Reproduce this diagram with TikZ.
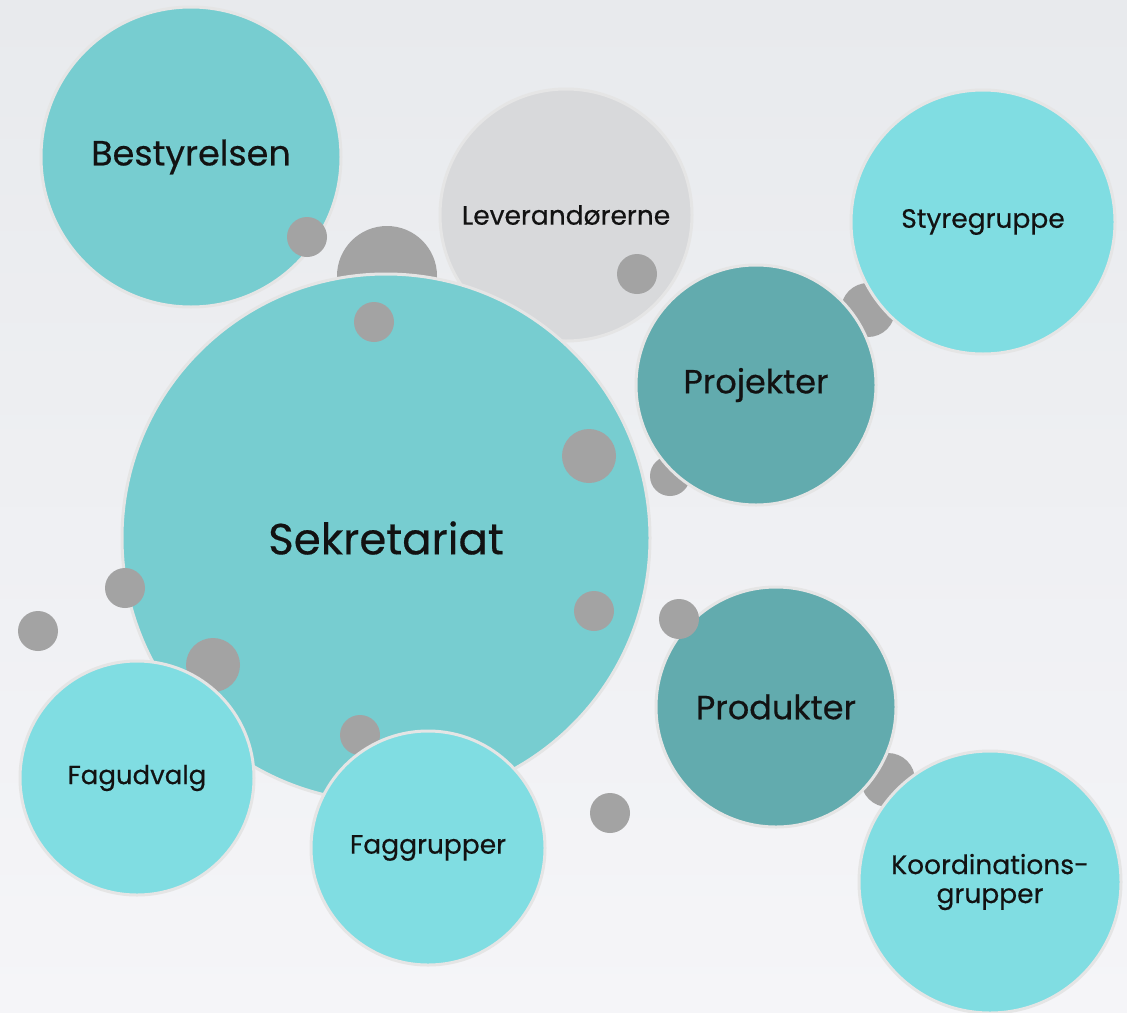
\documentclass[tikz,border=0pt]{standalone}
\usepackage{fontspec}
\setmainfont{Poppins}[FakeBold=0.4]
\usetikzlibrary{positioning}

\definecolor{bgtop}{RGB}{232,234,237}
\definecolor{bgbottom}{RGB}{245,245,248}
\definecolor{tealmid}{RGB}{119,205,208}
\definecolor{teallight}{RGB}{128,221,226}
\definecolor{tealdark}{RGB}{98,171,174}
\definecolor{greybig}{RGB}{216,217,219}
\definecolor{dotgrey}{RGB}{163,163,163}
\definecolor{rimgrey}{RGB}{229,229,229}

\begin{document}
\begin{tikzpicture}[
    x=1pt, y=-1pt,
    bubble/.style={circle, draw=rimgrey, line width=3pt, inner sep=0pt, align=center, text=black!93},
    dot/.style={circle, fill=dotgrey, inner sep=0pt, minimum size=#1},
    dot/.default=40pt
]

% Background
\useasboundingbox (0,0) rectangle (1127,1012);
\shade[top color=bgtop, bottom color=bgbottom] (0,0) rectangle (1127,1012);

% Dots behind the bubbles
\node[dot=100pt] (d1) at (387,276) {};
\node[dot=54pt] (d2) at (868,310) {};
\node[dot=40pt] (d3) at (670,476) {};
\node[dot=54pt] (d4) at (888,780) {};

% Bubbles
\node[bubble, fill=greybig, minimum size=252pt, font=\fontsize{26.5}{29}\selectfont] (lev) at (566,215) {Leverandørerne};
\node[bubble, fill=tealmid, minimum size=300pt, font=\fontsize{35}{40}\selectfont] (best) at (191,157) {Bestyrelsen};
\node[dot] (d5) at (307,237) {};
\node[dot] (d6) at (637,274) {};
\node[bubble, fill=tealmid, minimum size=528pt, font=\fontsize{43.5}{50}\selectfont] (sekr) at (386,538) {Sekretariat};
\node[dot] (d7) at (374,322) {};
\node[dot=54pt] (d8) at (589,456) {};
\node[dot] (d9) at (594,611) {};
\node[dot] (d10) at (125,588) {};
\node[dot=54pt] (d11) at (213,665) {};
\node[dot] (d12) at (360,735) {};
\node[bubble, fill=teallight, minimum size=264pt, font=\fontsize{26.5}{29}\selectfont] (styr) at (983,222) {Styregruppe};
\node[bubble, fill=tealdark, minimum size=240pt, font=\fontsize{33.5}{38}\selectfont] (proj) at (756,385) {Projekter};
\node[bubble, fill=tealdark, minimum size=240pt, font=\fontsize{33.5}{38}\selectfont] (prod) at (776,707) {Produkter};
\node[dot] (d13) at (679,619) {};
\node[bubble, fill=teallight, minimum size=262pt, font=\fontsize{26.5}{29}\selectfont] (koord) at (990,882) {Koordinations-\\grupper};
\node[bubble, fill=teallight, minimum size=234pt, font=\fontsize{26}{29}\selectfont] (fagu) at (137,778) {Fagudvalg};
\node[bubble, fill=teallight, minimum size=234pt, font=\fontsize{26.5}{29}\selectfont] (fagg) at (428,848) {Faggrupper};

% Loose dots
\node[dot] (d14) at (38,631) {};
\node[dot] (d15) at (610,813) {};

\end{tikzpicture}
\end{document}
